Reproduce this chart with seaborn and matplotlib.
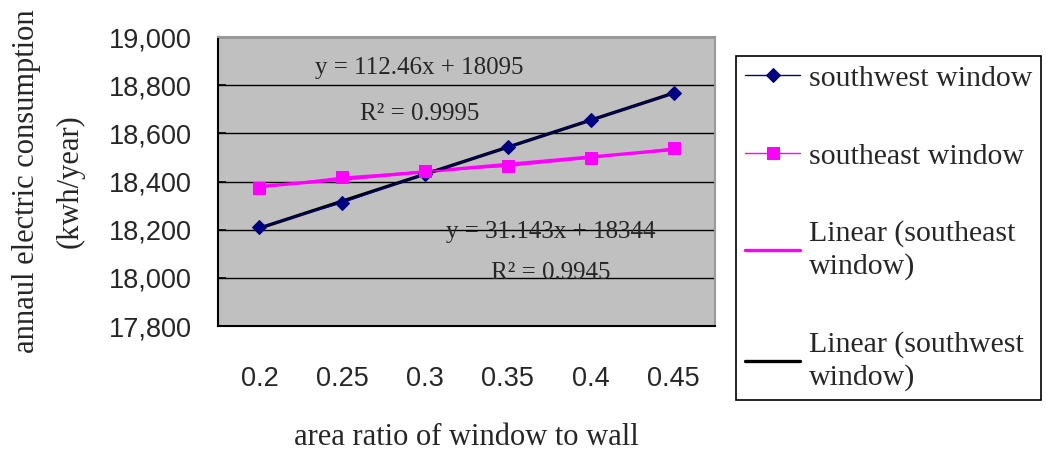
import numpy as np
import pandas as pd
import matplotlib
matplotlib.use("Agg")
import matplotlib.pyplot as plt
import seaborn as sns
from matplotlib.ticker import FuncFormatter, FixedLocator

# data
ratios = ["0.2", "0.25", "0.3", "0.35", "0.4", "0.45"]
southwest = [18210, 18312, 18432, 18543, 18657, 18766]
southeast = [18375, 18418, 18442, 18463, 18497, 18539]
sw_eq = "y = 112.46x + 18095"
sw_r2 = "R\u00b2 = 0.9995"
se_eq = "y = 31.143x + 18344"
se_r2 = "R\u00b2 = 0.9945"

pos = np.arange(len(ratios))
df = pd.DataFrame({"pos": pos, "sw": southwest, "se": southeast})

sns.set_style("white")
plt.rcParams["font.family"] = ["Liberation Serif", "DejaVu Serif"]

fig = plt.figure(figsize=(10.46, 4.54), dpi=100)
ax = fig.add_axes([218 / 1046, 1 - 326 / 454, (715 - 218) / 1046, (326 - 37) / 454])
ax.set_facecolor("#c0c0c0")

# series
sns.lineplot(data=df, x="pos", y="sw", ax=ax, color="#000080", lw=1, marker="D",
             markersize=7, markeredgecolor="#000080", label="southwest window", zorder=4)
sns.lineplot(data=df, x="pos", y="se", ax=ax, color="#ff00ff", lw=1, marker="s",
             markersize=8, markeredgecolor="#ff00ff", label="southeast window", zorder=4)

# linear trend lines
sns.regplot(data=df, x="pos", y="se", ax=ax, scatter=False, ci=None,
            label="Linear (southeast\nwindow)",
            line_kws=dict(color="#ff00ff", lw=2.4, zorder=3))
sns.regplot(data=df, x="pos", y="sw", ax=ax, scatter=False, ci=None,
            label="Linear (southwest\nwindow)",
            line_kws=dict(color="black", lw=2.4, zorder=3))

ax.set_xlim(-0.5, 5.5)
ax.set_ylim(17800, 19000)
ax.set_yticks(np.arange(17800, 19001, 200))
ax.yaxis.set_major_formatter(FuncFormatter(lambda v, p: f"{v:,.0f}"))
ax.set_xticks(pos)
ax.set_xticklabels(ratios)
ax.xaxis.set_minor_locator(FixedLocator(pos + 0.5))
ax.grid(axis="y", color="black", lw=1)
ax.set_axisbelow(True)

for lab in ax.get_xticklabels() + ax.get_yticklabels():
    lab.set_family(["Liberation Sans", "DejaVu Sans"])
    lab.set_fontsize(19.5)
ax.tick_params(axis="x", which="major", length=0, pad=29)
ax.tick_params(axis="x", which="minor", direction="in", length=6, width=1.2, color="black")
ax.tick_params(axis="y", direction="in", length=6, width=1.2, color="black", pad=19, left=True)

for s in ["left", "bottom"]:
    ax.spines[s].set_color("black")
    ax.spines[s].set_linewidth(1.5)
for s in ["top", "right"]:
    ax.spines[s].set_color("#9a9a9a")
    ax.spines[s].set_linewidth(1.5)

ax.set_xlabel("area ratio of window to wall", fontsize=22, labelpad=22)
ax.set_ylabel("annaul electric consumption\n(kwh/year)", fontsize=22, linespacing=1.65)
ax.yaxis.set_label_coords(-0.268, 0.5)

# trend equations
ax.text(1.93, 18870, sw_eq, fontsize=18, ha="center", va="center")
ax.text(1.93, 18680, sw_r2, fontsize=18, ha="center", va="center")
ax.text(3.52, 18190, se_eq, fontsize=18, ha="center", va="center")
ax.text(3.52, 18020, se_r2, fontsize=18, ha="center", va="center")

handles, labels = ax.get_legend_handles_labels()
order = ["southwest window", "southeast window", "Linear (southeast\nwindow)", "Linear (southwest\nwindow)"]
hmap = dict(zip(labels, handles))
if ax.get_legend() is not None:
    ax.get_legend().remove()
leg = fig.legend([hmap[k] for k in order], order, loc="upper left",
                 bbox_to_anchor=(736 / 1046, 1 - 56 / 454), fontsize=21.5,
                 frameon=True, fancybox=False, edgecolor="black", framealpha=1,
                 labelspacing=1.7, handlelength=1.85, handletextpad=0.3,
                 borderpad=0.3, borderaxespad=0)
for t in leg.get_texts():
    t.set_linespacing(1.3)
leg.get_frame().set_linewidth(1.2)

fig.savefig("out.png", dpi=100)
